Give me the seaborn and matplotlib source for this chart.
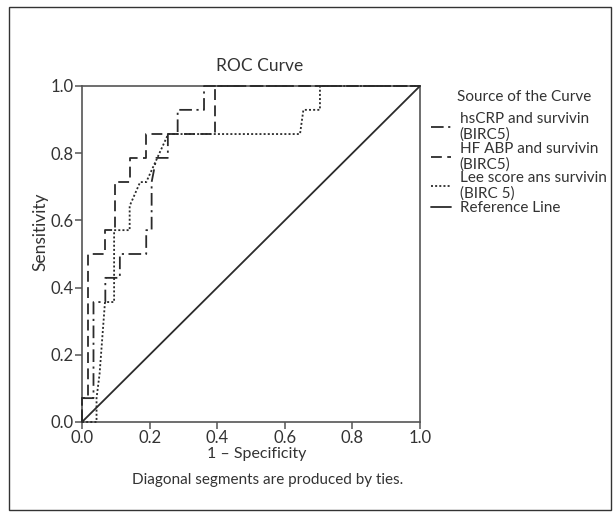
import matplotlib
matplotlib.use("Agg")
import matplotlib.pyplot as plt
import seaborn as sns
import pandas as pd
from matplotlib.patches import Rectangle
from matplotlib.lines import Line2D

sns.set_theme(style="white")
plt.rcParams['font.family'] = ['Lato', 'DejaVu Sans']

# ROC curve data (1 - specificity, sensitivity)
hs_fpr = [0.0, 0.0, 0.034, 0.034, 0.069, 0.069, 0.112, 0.112, 0.19, 0.19, 0.206, 0.206, 0.22, 0.254, 0.254, 0.283, 0.283, 0.361, 0.361, 1.0]
hs_tpr = [0.0, 0.071, 0.071, 0.357, 0.357, 0.429, 0.429, 0.5, 0.5, 0.571, 0.571, 0.714, 0.786, 0.786, 0.857, 0.857, 0.929, 0.929, 1.0, 1.0]

hf_fpr = [0.0, 0.0, 0.018, 0.018, 0.068, 0.068, 0.097, 0.097, 0.142, 0.142, 0.19, 0.19, 0.393, 0.393, 1.0]
hf_tpr = [0.0, 0.071, 0.071, 0.5, 0.5, 0.571, 0.571, 0.714, 0.714, 0.786, 0.786, 0.857, 0.857, 1.0, 1.0]

lee_fpr = [0.0, 0.043, 0.043, 0.052, 0.068, 0.095, 0.095, 0.141, 0.141, 0.172, 0.19, 0.255, 0.645, 0.655, 0.704, 0.704, 1.0]
lee_tpr = [0.0, 0.0, 0.071, 0.143, 0.357, 0.357, 0.571, 0.571, 0.643, 0.714, 0.714, 0.857, 0.857, 0.929, 0.929, 1.0, 1.0]

ref_x = [0.0, 1.0]
ref_y = [0.0, 1.0]

labels = ["hsCRP and survivin\n(BIRC5)", "HF ABP and survivin\n(BIRC5)",
          "Lee score ans survivin\n(BIRC 5)", "Reference Line"]
legend_title = "Source of the Curve"
ticks = [0.0, 0.2, 0.4, 0.6, 0.8, 1.0]
tick_labels = ["0.0", "0.2", "0.4", "0.6", "0.8", "1.0"]

col = "#2b2b2b"
txt = "#333333"
styles = [(0, (7, 2.5, 1.2, 2.5)), (0, (6, 3)), (0, (1.1, 1.2)), "-"]

W, H = 615, 517
fig = plt.figure(figsize=(W / 100, H / 100), dpi=100)
fig.patch.set_facecolor("white")
ax = fig.add_axes([82 / W, 1 - 422 / H, 338 / W, 336 / H])

curves = [(hs_fpr, hs_tpr), (hf_fpr, hf_tpr), (lee_fpr, lee_tpr), (ref_x, ref_y)]
for (xs, ys), ls, lab in zip(curves, styles, labels):
    df = pd.DataFrame({"x": xs, "y": ys})
    sns.lineplot(data=df, x="x", y="y", sort=False, estimator=None, ax=ax,
                 color=col, linewidth=1.3, linestyle=ls, label=lab, clip_on=False,
                 zorder=3)

ax.set_xlim(0, 1)
ax.set_ylim(0, 1)
ax.set_xticks(ticks)
ax.set_xticklabels(tick_labels)
ax.set_yticks(ticks)
ax.set_yticklabels(tick_labels)
for s in ax.spines.values():
    s.set_color("#555555")
    s.set_linewidth(1.2)
ax.tick_params(axis="both", which="major", direction="out", length=5, width=1.1,
               color="#555555", labelsize=12, labelcolor=txt, pad=1,
               bottom=True, left=True)
ax.set_xlabel("1 \u2013 Specificity", fontsize=11.5, color=txt)
ax.xaxis.set_label_coords((257 - 82) / 338, (422 - 454) / 336, transform=ax.transAxes)
ax.xaxis.label.set_va("center")
ax.set_ylabel("Sensitivity", fontsize=12.5, color=txt)
ax.yaxis.set_label_coords((40 - 82) / 338, (422 - 232) / 336, transform=ax.transAxes)
ax.yaxis.label.set_va("center")

fig.text(260 / W, 1 - 66 / H, "ROC Curve", ha="center", va="center",
         fontsize=12.5, color=txt)

handles = [Line2D([0], [0], color=col, linewidth=1.3, linestyle=ls) for ls in styles]
leg = ax.legend(handles, labels, loc="upper left",
                bbox_to_anchor=(1.0, (422 - 101) / 336), frameon=False, fontsize=11,
                handlelength=1.3, handletextpad=0.6,
                labelspacing=0.0, borderaxespad=0.3)
for t in leg.get_texts():
    t.set_color(txt)
    t.set_linespacing(1.13)

fig.text(457 / W, 1 - 97 / H, legend_title, ha="left", va="center",
         fontsize=11, color=txt)

fig.text(268 / W, 1 - 480 / H, "Diagonal segments are produced by ties.",
         ha="center", va="center", fontsize=11, color=txt)

fig.patches.append(Rectangle((9 / W, 1 - 510 / H), 602 / W, 503 / H,
                             transform=fig.transFigure, fill=False,
                             edgecolor="#333333", linewidth=1.0))

fig.savefig("out.png", dpi=100)
